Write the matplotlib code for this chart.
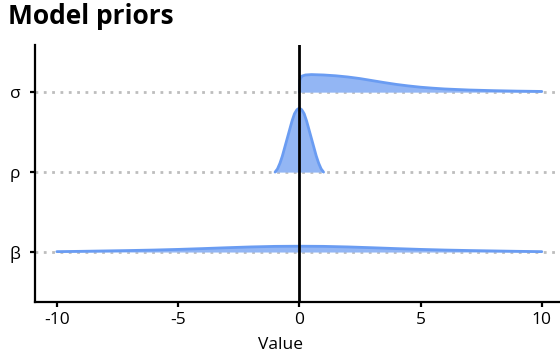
import numpy as np
import matplotlib
matplotlib.use("Agg")
import matplotlib.pyplot as plt

plt.rcParams['font.family'] = ['Open Sans', 'DejaVu Sans']

# Parameters shown on the y axis, bottom to top
params = ["β", "ρ", "σ"]

# Prior density curves (ridge heights, in ridge units)
beta_x = [-10, -9, -8, -7, -6, -5, -4, -3, -2, -1, 0, 1, 2, 3, 4, 5, 6, 7, 8, 9, 10]
beta_h = [0.005, 0.009, 0.014, 0.019, 0.025, 0.033, 0.043, 0.054, 0.064, 0.071, 0.073,
          0.071, 0.064, 0.054, 0.043, 0.033, 0.025, 0.019, 0.014, 0.009, 0.005]

rho_x = [-1.0, -0.9, -0.8, -0.7, -0.6, -0.5, -0.4, -0.3, -0.2, -0.1, 0.0,
         0.1, 0.2, 0.3, 0.4, 0.5, 0.6, 0.7, 0.8, 0.9, 1.0]
rho_h = [0.0, 0.04, 0.11, 0.20, 0.31, 0.42, 0.53, 0.64, 0.73, 0.78, 0.80,
         0.78, 0.73, 0.64, 0.53, 0.42, 0.31, 0.20, 0.11, 0.04, 0.0]

sigma_x = [0.0, 0.02, 0.1, 0.25, 0.5, 1.0, 1.5, 2.0, 2.5, 3.0, 3.5, 4.0,
           4.5, 5.0, 5.5, 6.0, 7.0, 8.0, 9.0, 10.0]
sigma_h = [0.0, 0.15, 0.20, 0.215, 0.22, 0.215, 0.205, 0.19, 0.17, 0.145, 0.12, 0.097,
           0.078, 0.062, 0.05, 0.04, 0.027, 0.019, 0.013, 0.009]

curves = [(beta_x, beta_h), (rho_x, rho_h), (sigma_x, sigma_h)]

x_ticks = [-10, -5, 0, 5, 10]

fill_col = "#93b6f4"
line_col = "#6a9cf2"

fig = plt.figure(figsize=(5.6, 3.62), dpi=100)
ax = fig.add_axes([35 / 560, 60 / 362, 1 - 35 / 560, (302 - 45) / 362])

for i, (xs, hs) in enumerate(curves):
    base = i + 1
    ax.axhline(base, color="#bdbdbd", lw=2, ls=(0, (1, 2)), zorder=1)
    top = base + np.array(hs)
    ax.fill_between(xs, base, top, color=fill_col, lw=0, zorder=2)
    ax.plot(xs, top, color=line_col, lw=2, solid_capstyle="round", zorder=3)

ax.axvline(0, color="black", lw=2, zorder=4)

ax.set_xlim(-10.9, 10.75)
ax.set_ylim(0.375, 3.59)
ax.set_yticks([1, 2, 3])
ax.set_yticklabels(params)
ax.set_xticks(x_ticks)
ax.set_xticklabels([str(t) for t in x_ticks])

for s in ["top", "right"]:
    ax.spines[s].set_visible(False)
for s in ["left", "bottom"]:
    ax.spines[s].set_linewidth(1.6)
    ax.spines[s].set_color("black")
ax.tick_params(axis="both", length=3.5, width=1.6, color="black", labelsize=12.5,
               labelcolor="black")
ax.tick_params(axis="x", pad=4)
ax.tick_params(axis="y", pad=7)

fig.text(280 / 560, 1 - 345 / 362, "Value", ha="center", va="center", fontsize=12.5,
         color="black")
fig.text(8 / 560, 1 - 17 / 362, "Model priors", ha="left", va="center", fontsize=19,
         fontweight="bold", color="black")

fig.savefig("out.png", dpi=100)
